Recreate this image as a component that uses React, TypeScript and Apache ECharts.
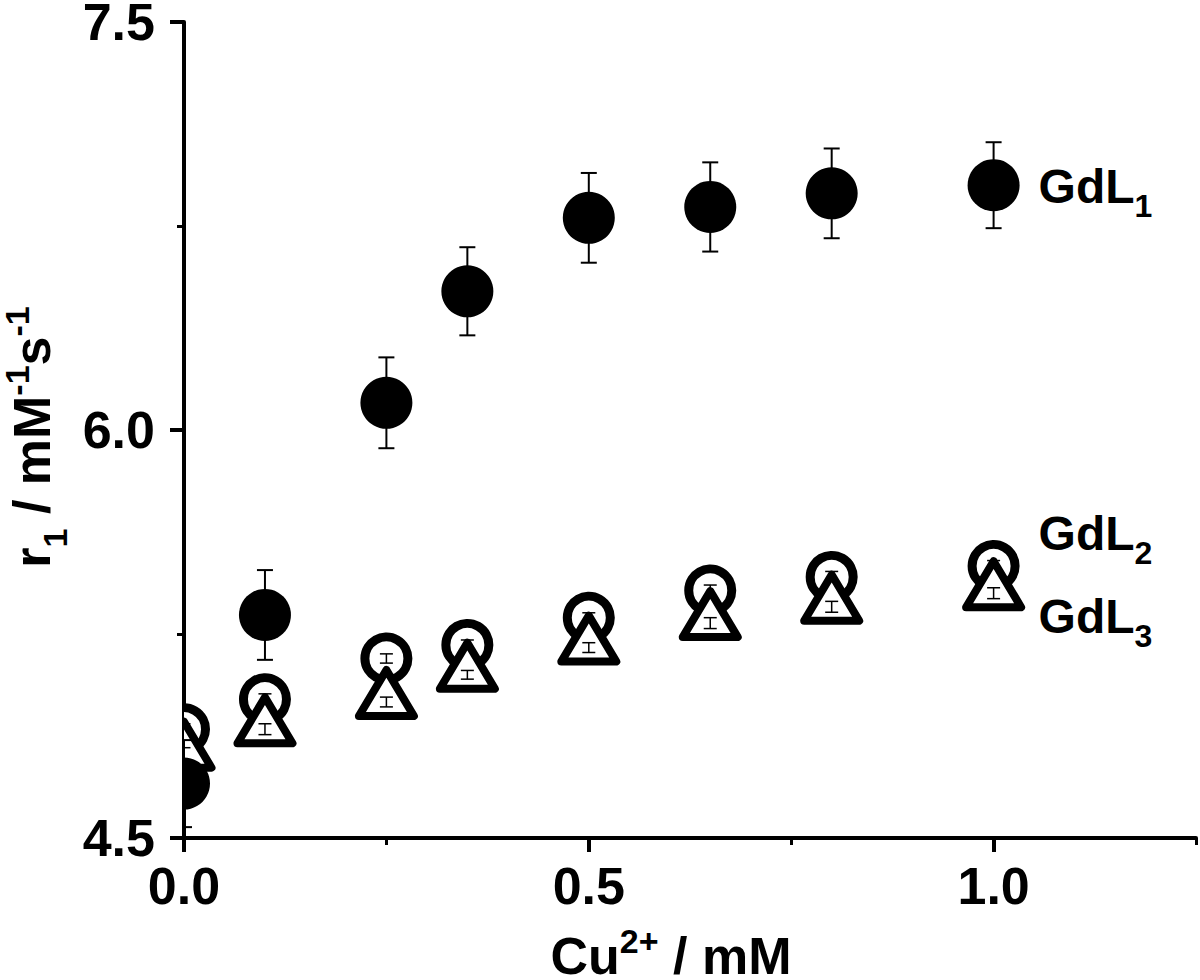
import React, { useEffect, useRef } from "react";
import * as echarts from "echarts";

// ---- data ----
const cuConc = [0, 0.1, 0.25, 0.35, 0.5, 0.65, 0.8, 1.0];
const gdl1 = [4.7, 5.32, 6.1, 6.51, 6.78, 6.82, 6.87, 6.9];
const gdl1Err = [0.16, 0.165, 0.167, 0.162, 0.165, 0.164, 0.165, 0.158];
const gdl2 = [4.9, 5.01, 5.16, 5.21, 5.31, 5.41, 5.46, 5.5];
const gdl2Err = [0.02, 0.02, 0.017, 0.018, 0.018, 0.02, 0.02, 0.02];
const gdl3 = [4.81, 4.9, 5.0, 5.1, 5.2, 5.29, 5.35, 5.4];
const gdl3Err = [0.022, 0.02, 0.018, 0.016, 0.018, 0.02, 0.02, 0.02];
const seriesNames = ["GdL1", "GdL2", "GdL3"];
const seriesSubs = ["1", "2", "3"];
const xMajorTicks = [0, 0.5, 1.0];
const xMinorTicks = [0.25, 0.75, 1.25];
const yMin = 4.5;
const yMax = 7.5;
const yStep = 1.5;
const xMin = 0;
const xMax = 1.25;

const FONT = "'Liberation Sans', Arial, Helvetica, sans-serif";

type Kind = "filled" | "open" | "triangle";

function makeRenderer(kind: Kind, labelText: string, labelDy: number) {
  return (params: any, api: any) => {
    const x = api.value(0);
    const y = api.value(1);
    const e = api.value(2);
    const c = api.coord([x, y]);
    const t = api.coord([x, y + e]);
    const b = api.coord([x, y - e]);
    const children: any[] = [];
    if (kind === "filled") {
      children.push({
        type: "circle",
        shape: { cx: c[0], cy: c[1], r: 26 },
        style: { fill: "#000" },
      });
    } else if (kind === "open") {
      children.push({
        type: "circle",
        shape: { cx: c[0], cy: c[1], r: 21.5 },
        style: { fill: "#fff", stroke: "#000", lineWidth: 9 },
      });
    } else {
      const cy = c[1] - 9;
      children.push({
        type: "polygon",
        shape: {
          points: [
            [c[0], cy - 23],
            [c[0] + 27.5, cy + 23],
            [c[0] - 27.5, cy + 23],
          ],
        },
        style: { fill: "#fff", stroke: "#000", lineWidth: 8, lineJoin: "round" },
      });
    }
    const cap = kind === "filled" ? 8 : 6.5;
    const lw = kind === "filled" ? 2 : 1.5;
    const ls = { stroke: "#000", lineWidth: lw };
    children.push({ type: "line", shape: { x1: t[0], y1: t[1], x2: b[0], y2: b[1] }, style: ls });
    children.push({ type: "line", shape: { x1: t[0] - cap, y1: t[1], x2: t[0] + cap, y2: t[1] }, style: ls });
    children.push({ type: "line", shape: { x1: b[0] - cap, y1: b[1], x2: b[0] + cap, y2: b[1] }, style: ls });
    if (params.dataIndex === params.dataInsideLength - 1) {
      children.push({
        type: "text",
        x: c[0] + 45,
        y: c[1] + labelDy,
        style: {
          text: labelText,
          align: "left",
          verticalAlign: "middle",
          textAlign: "left",
          textVerticalAlign: "middle",
          rich: {
            a: { fontSize: 48, fontWeight: "bold", fontFamily: FONT, lineHeight: 48, verticalAlign: "top", fill: "#000", color: "#000" },
            b: { fontSize: 32, fontWeight: "bold", fontFamily: FONT, lineHeight: 32, padding: [28, 0, 0, 0], verticalAlign: "top", fill: "#000", color: "#000" },
          },
        },
      });
    }
    return { type: "group", children };
  };
}

function buildData(ys: number[], errs: number[]) {
  return cuConc.map((x, i) => [x, ys[i], errs[i]]);
}

export default function App() {
  const ref = useRef<HTMLDivElement>(null);
  useEffect(() => {
    document.body.style.margin = "0";
    if (!ref.current) return;
    const chart = echarts.init(ref.current, undefined, { renderer: "svg" });
    const tickLabel = {
      color: "#000",
      fontSize: 52,
      fontWeight: "bold",
      fontFamily: FONT,
    };
    const mainTok = { fontSize: 52, fontWeight: "bold", fontFamily: FONT, lineHeight: 52, padding: [6, 0, 0, 0], verticalAlign: "top", color: "#000" };
    const supTok = { fontSize: 34, fontWeight: "bold", fontFamily: FONT, lineHeight: 34, verticalAlign: "top", color: "#000" };
    const subTok = { fontSize: 34, fontWeight: "bold", fontFamily: FONT, lineHeight: 34, padding: [38, 0, 0, 0], verticalAlign: "top", color: "#000" };

    const option: any = {
      animation: false,
      backgroundColor: "#fff",
      grid: { left: 184, top: 22, right: 4, bottom: 142, outerBoundsMode: "none" },
      xAxis: [
        {
          type: "value",
          min: xMin,
          max: xMax,
          interval: 0.5,
          position: "bottom",
          axisLine: { show: true, onZero: false, lineStyle: { color: "#000", width: 4 } },
          axisTick: { show: true, inside: false, length: 14, customValues: xMajorTicks, lineStyle: { color: "#000", width: 4 } },
          axisLabel: { ...tickLabel, margin: 22, customValues: xMajorTicks, formatter: (v: number) => v.toFixed(1) },
          splitLine: { show: false },
          name: "{m|Cu}{p|2+}{m| / mM}",
          nameLocation: "middle",
          nameGap: 86,
          nameTextStyle: { padding: [0, 38, 0, 0], rich: { m: mainTok, p: supTok } },
        },
        {
          type: "value",
          min: xMin,
          max: xMax,
          interval: 0.25,
          position: "bottom",
          axisLine: { show: false },
          axisTick: { show: true, inside: false, length: 7, customValues: xMinorTicks, lineStyle: { color: "#000", width: 3 } },
          axisLabel: { show: false },
          splitLine: { show: false },
        },
      ],
      yAxis: {
        type: "value",
        min: yMin,
        max: yMax,
        interval: yStep,
        axisLine: { show: true, onZero: false, lineStyle: { color: "#000", width: 4 } },
        axisTick: { show: true, inside: false, length: 14, lineStyle: { color: "#000", width: 4 } },
        minorTick: { show: true, splitNumber: 2, length: 7, lineStyle: { color: "#000", width: 3 } },
        axisLabel: { ...tickLabel, margin: 29, formatter: (v: number) => v.toFixed(1) },
        splitLine: { show: false },
        minorSplitLine: { show: false },
        name: "{m|r}{s|1}{m| / mM}{p|-1}{m|s}{p|-1}",
        nameLocation: "middle",
        nameRotate: 90,
        nameGap: 110,
        nameTextStyle: { padding: [0, 14, 0, 0], rich: { m: mainTok, p: supTok, s: subTok } },
      },
      series: [
        {
          name: seriesNames[1],
          type: "custom",
          clip: true,
          silent: true,
          renderItem: makeRenderer("open", `{a|GdL}{b|${seriesSubs[1]}}`, -33),
          encode: { x: 0, y: 1 },
          data: buildData(gdl2, gdl2Err),
        },
        {
          name: seriesNames[2],
          type: "custom",
          clip: true,
          silent: true,
          renderItem: makeRenderer("triangle", `{a|GdL}{b|${seriesSubs[2]}}`, 23),
          encode: { x: 0, y: 1 },
          data: buildData(gdl3, gdl3Err),
        },
        {
          name: seriesNames[0],
          type: "custom",
          clip: true,
          silent: true,
          renderItem: makeRenderer("filled", `{a|GdL}{b|${seriesSubs[0]}}`, 1),
          encode: { x: 0, y: 1 },
          data: buildData(gdl1, gdl1Err),
        },
      ],
    };
    chart.setOption(option);
    return () => chart.dispose();
  }, []);
  return <div ref={ref} style={{ width: 1200, height: 980 }} />;
}
